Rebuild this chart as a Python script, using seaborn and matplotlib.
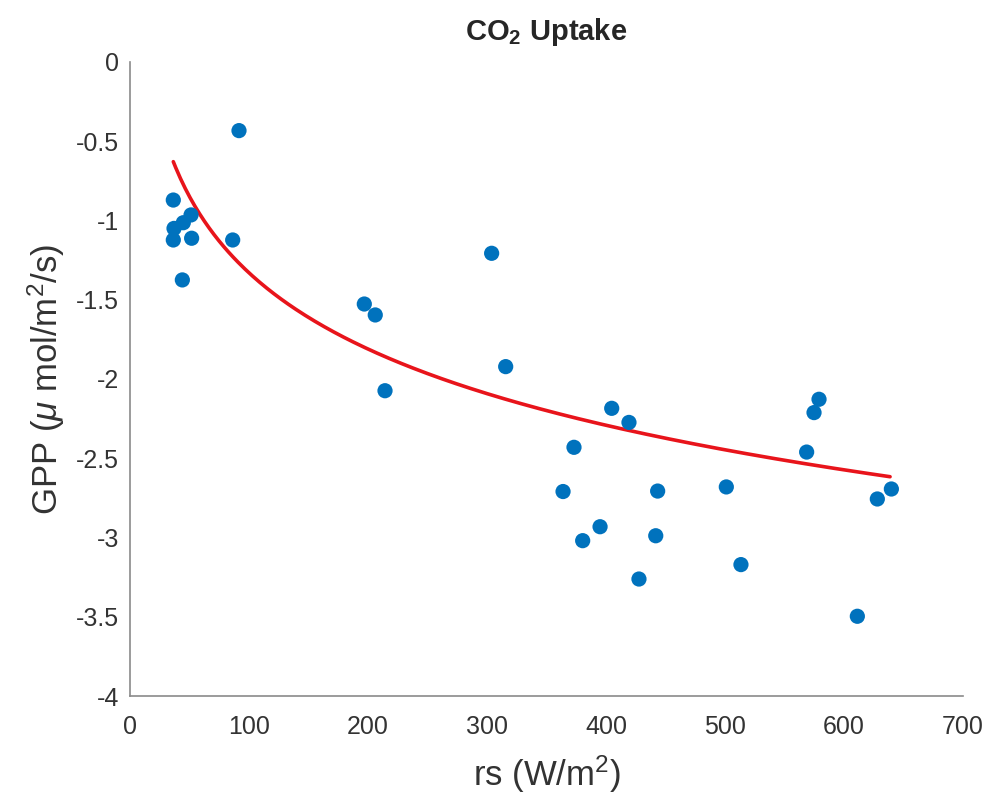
import numpy as np
import pandas as pd
import matplotlib
matplotlib.use("Agg")
import matplotlib.pyplot as plt
import seaborn as sns

# Data
rs = [91.6, 36.4, 51.3, 44.8, 37.0, 36.4, 51.8, 86.3, 44.0,
      196.9, 206.1, 214.3, 303.9, 315.7,
      404.8, 419.3, 373.1, 363.9, 395.0, 380.4, 427.7, 443.4, 441.8,
      501.1, 513.4,
      579.0, 574.8, 568.6, 639.8, 628.0, 611.2]
gpp = [-0.433, -0.871, -0.965, -1.014, -1.050, -1.123, -1.112, -1.123, -1.375,
       -1.527, -1.596, -2.074, -1.207, -1.922,
       -2.185, -2.274, -2.431, -2.710, -2.932, -3.020, -3.262, -2.707, -2.989,
       -2.681, -3.171,
       -2.128, -2.212, -2.461, -2.694, -2.757, -3.497]

# Logarithmic fit curve: y = a + b*ln(x)
fit_a = 1.865
fit_b = -0.6938
fit_xmin, fit_xmax = 36.4, 638.7

xticks = [0, 100, 200, 300, 400, 500, 600, 700]
yticks = [0, -0.5, -1, -1.5, -2, -2.5, -3, -3.5, -4]
yticklabels = ["0", "-0.5", "-1", "-1.5", "-2", "-2.5", "-3", "-3.5", "-4"]

sns.set_style("white")
plt.rcParams['font.family'] = ['Liberation Sans', 'DejaVu Sans']
plt.rcParams['mathtext.fontset'] = 'custom'
plt.rcParams['mathtext.rm'] = 'Liberation Sans'
plt.rcParams['mathtext.it'] = 'Liberation Sans:italic'
plt.rcParams['mathtext.bf'] = 'Liberation Sans:bold'

fig = plt.figure(figsize=(9.87, 8.05), dpi=100)
ax = fig.add_axes([0.1317, 0.1354, 0.8440, 0.7876])

df = pd.DataFrame({"rs": rs, "gpp": gpp})
sns.scatterplot(data=df, x="rs", y="gpp", ax=ax, color="#0072BD", s=120,
                edgecolor="none", zorder=3)

xf = np.linspace(fit_xmin, fit_xmax, 300)
fit_df = pd.DataFrame({"x": xf, "y": fit_a + fit_b * np.log(xf)})
sns.lineplot(data=fit_df, x="x", y="y", ax=ax, color="#E8141B", lw=2.6, zorder=2)

ax.set_xlim(0, 700)
ax.set_ylim(-4, 0)
ax.set_xticks(xticks)
ax.set_yticks(yticks)
ax.set_yticklabels(yticklabels)

for s in ["top", "right"]:
    ax.spines[s].set_visible(False)
for s in ["left", "bottom"]:
    ax.spines[s].set_color("#8a8a8a")
    ax.spines[s].set_linewidth(1.2)
ax.tick_params(axis="both", direction="in", length=6, width=1.2, color="#8a8a8a",
               labelsize=18, labelcolor="#333333")
ax.tick_params(axis="x", pad=14)
ax.tick_params(axis="y", pad=8)

ax.set_xlabel(r"rs (W/m$^2$)", fontsize=25, color="#333333", labelpad=10)
ax.set_ylabel(r"GPP ($\mu$ mol/m$^2$/s)", fontsize=25, color="#333333", labelpad=6)
ax.set_title(r"$\mathbf{CO_2}$ Uptake", fontsize=21, fontweight="bold", pad=16)

fig.savefig("out.png", dpi=100)
